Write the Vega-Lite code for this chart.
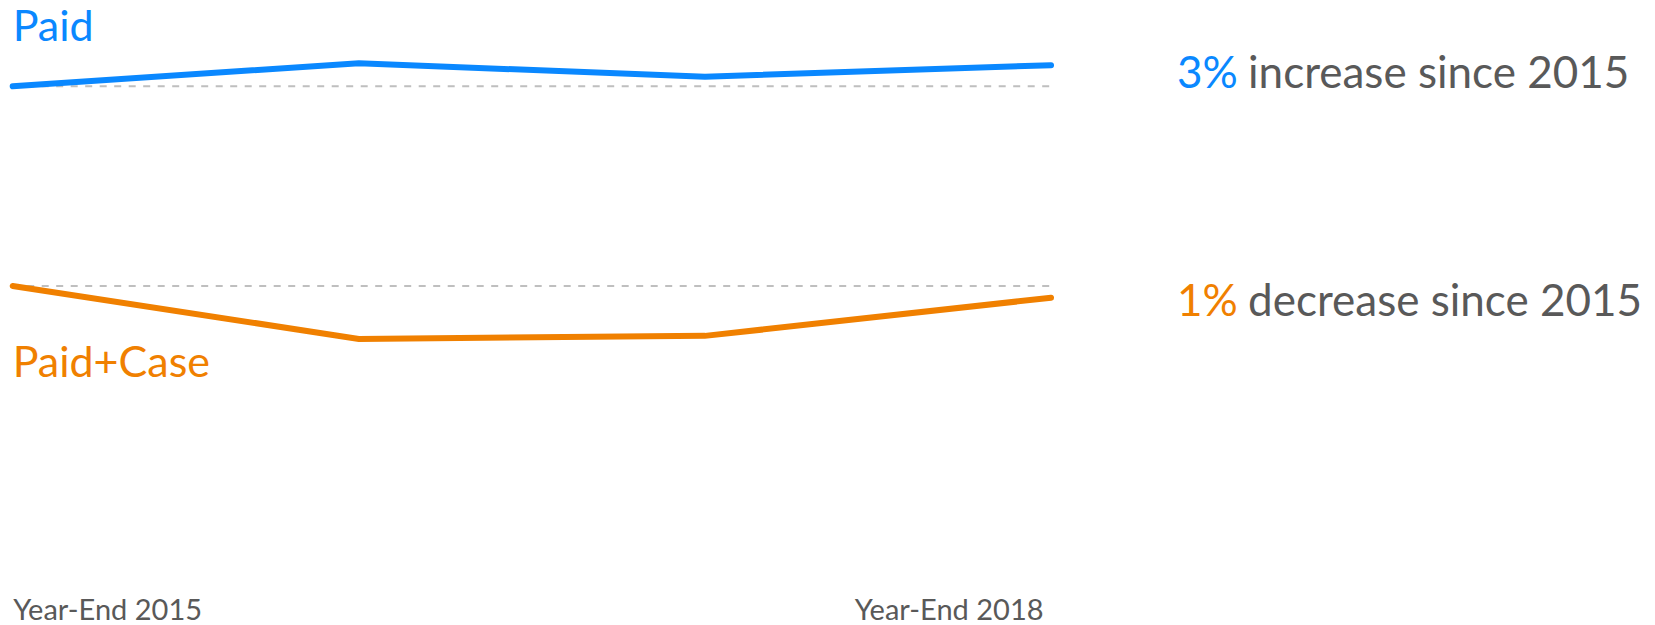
{
  "$schema": "https://vega.github.io/schema/vega-lite/v6.json",
  "width": 1655,
  "height": 625,
  "autosize": {"type": "fit", "contains": "padding"},
  "padding": 0,
  "background": "white",
  "config": {
    "view": {"stroke": null},
    "text": {"font": "Lato"},
    "axis": {"labelFont": "Lato"}
  },
  "datasets": {
    "series": [
      {"series": "Paid", "year": 2015, "value": 100},
      {"series": "Paid", "year": 2016, "value": 103.27},
      {"series": "Paid", "year": 2017, "value": 101.35},
      {"series": "Paid", "year": 2018, "value": 103},
      {"series": "Paid+Case", "year": 2015, "value": 100},
      {"series": "Paid+Case", "year": 2016, "value": 95.47},
      {"series": "Paid+Case", "year": 2017, "value": 95.73},
      {"series": "Paid+Case", "year": 2018, "value": 99}
    ],
    "summary": [
      {"series": "Paid", "change": "3%", "note": "increase since 2015"},
      {"series": "Paid+Case", "change": "1%", "note": "decrease since 2015"}
    ]
  },
  "encoding": {
    "x": {
      "field": "year",
      "type": "quantitative",
      "scale": {"domain": [2014.9633, 2019.745], "nice": false, "zero": false},
      "axis": {
        "values": [2015, 2018],
        "labelExpr": "'Year-End ' + datum.value",
        "labelFontSize": 29,
        "labelColor": "#595959",
        "labelLimit": 0,
        "labelAlign": {"condition": {"test": "datum.value == 2015", "value": "left"}, "value": "right"},
        "labelOffset": {"condition": {"test": "datum.value == 2018", "value": -8}, "value": 0},
        "labelBaseline": "alphabetic",
        "labelPadding": 0,
        "labelOverlap": false,
        "offset": -4,
        "ticks": false,
        "domain": false,
        "grid": false,
        "title": null
      }
    }
  },
  "layer": [
    {
      "data": {"name": "series"},
      "transform": [{"filter": "datum.series == 'Paid'"}],
      "encoding": {
        "y": {"field": "value", "type": "quantitative", "scale": {"domain": [23.4, 112.3], "nice": false, "zero": false}, "axis": null}
      },
      "layer": [
        {
          "transform": [{"filter": "datum.year == 2015"}],
          "mark": {"type": "rule", "color": "#bfbfbf", "strokeWidth": 2, "strokeDash": [7, 7.5]},
          "encoding": {"x2": {"datum": 2018}}
        },
        {
          "mark": {"type": "line", "color": "#0a88ff", "strokeWidth": 6, "strokeCap": "round"}
        },
        {
          "transform": [{"filter": "datum.year == 2015"}],
          "mark": {"type": "text", "align": "left", "baseline": "alphabetic", "dy": -45, "fontSize": 43, "color": "#0a88ff"},
          "encoding": {"text": {"field": "series"}}
        },
        {
          "transform": [
            {"filter": "datum.year == 2018"},
            {"lookup": "series", "from": {"data": {"name": "summary"}, "key": "series", "fields": ["change", "note"]}}
          ],
          "layer": [
            {
              "mark": {"type": "text", "align": "left", "baseline": "alphabetic", "dx": 126, "dy": 23, "fontSize": 44, "color": "#0a88ff"},
              "encoding": {"text": {"field": "change"}}
            },
            {
              "mark": {"type": "text", "align": "left", "baseline": "alphabetic", "dx": 197, "dy": 23, "fontSize": 44, "color": "#595959"},
              "encoding": {"text": {"field": "note"}}
            }
          ]
        }
      ]
    },
    {
      "data": {"name": "series"},
      "transform": [{"filter": "datum.series == 'Paid+Case'"}],
      "encoding": {
        "y": {"field": "value", "type": "quantitative", "scale": {"domain": [71.11, 124.53], "nice": false, "zero": false}, "axis": null}
      },
      "layer": [
        {
          "transform": [{"filter": "datum.year == 2015"}],
          "mark": {"type": "rule", "color": "#bfbfbf", "strokeWidth": 2, "strokeDash": [7, 7.5]},
          "encoding": {"x2": {"datum": 2018}}
        },
        {
          "mark": {"type": "line", "color": "#f08000", "strokeWidth": 6, "strokeCap": "round"}
        },
        {
          "transform": [{"filter": "datum.year == 2015"}],
          "mark": {"type": "text", "align": "left", "baseline": "alphabetic", "dy": 91, "fontSize": 43, "color": "#f08000"},
          "encoding": {"text": {"field": "series"}}
        },
        {
          "transform": [
            {"filter": "datum.year == 2018"},
            {"lookup": "series", "from": {"data": {"name": "summary"}, "key": "series", "fields": ["change", "note"]}}
          ],
          "layer": [
            {
              "mark": {"type": "text", "align": "left", "baseline": "alphabetic", "dx": 126, "dy": 18, "fontSize": 44, "color": "#f08000"},
              "encoding": {"text": {"field": "change"}}
            },
            {
              "mark": {"type": "text", "align": "left", "baseline": "alphabetic", "dx": 197, "dy": 18, "fontSize": 44, "color": "#595959"},
              "encoding": {"text": {"field": "note"}}
            }
          ]
        }
      ]
    }
  ],
  "resolve": {"scale": {"y": "independent"}}
}
